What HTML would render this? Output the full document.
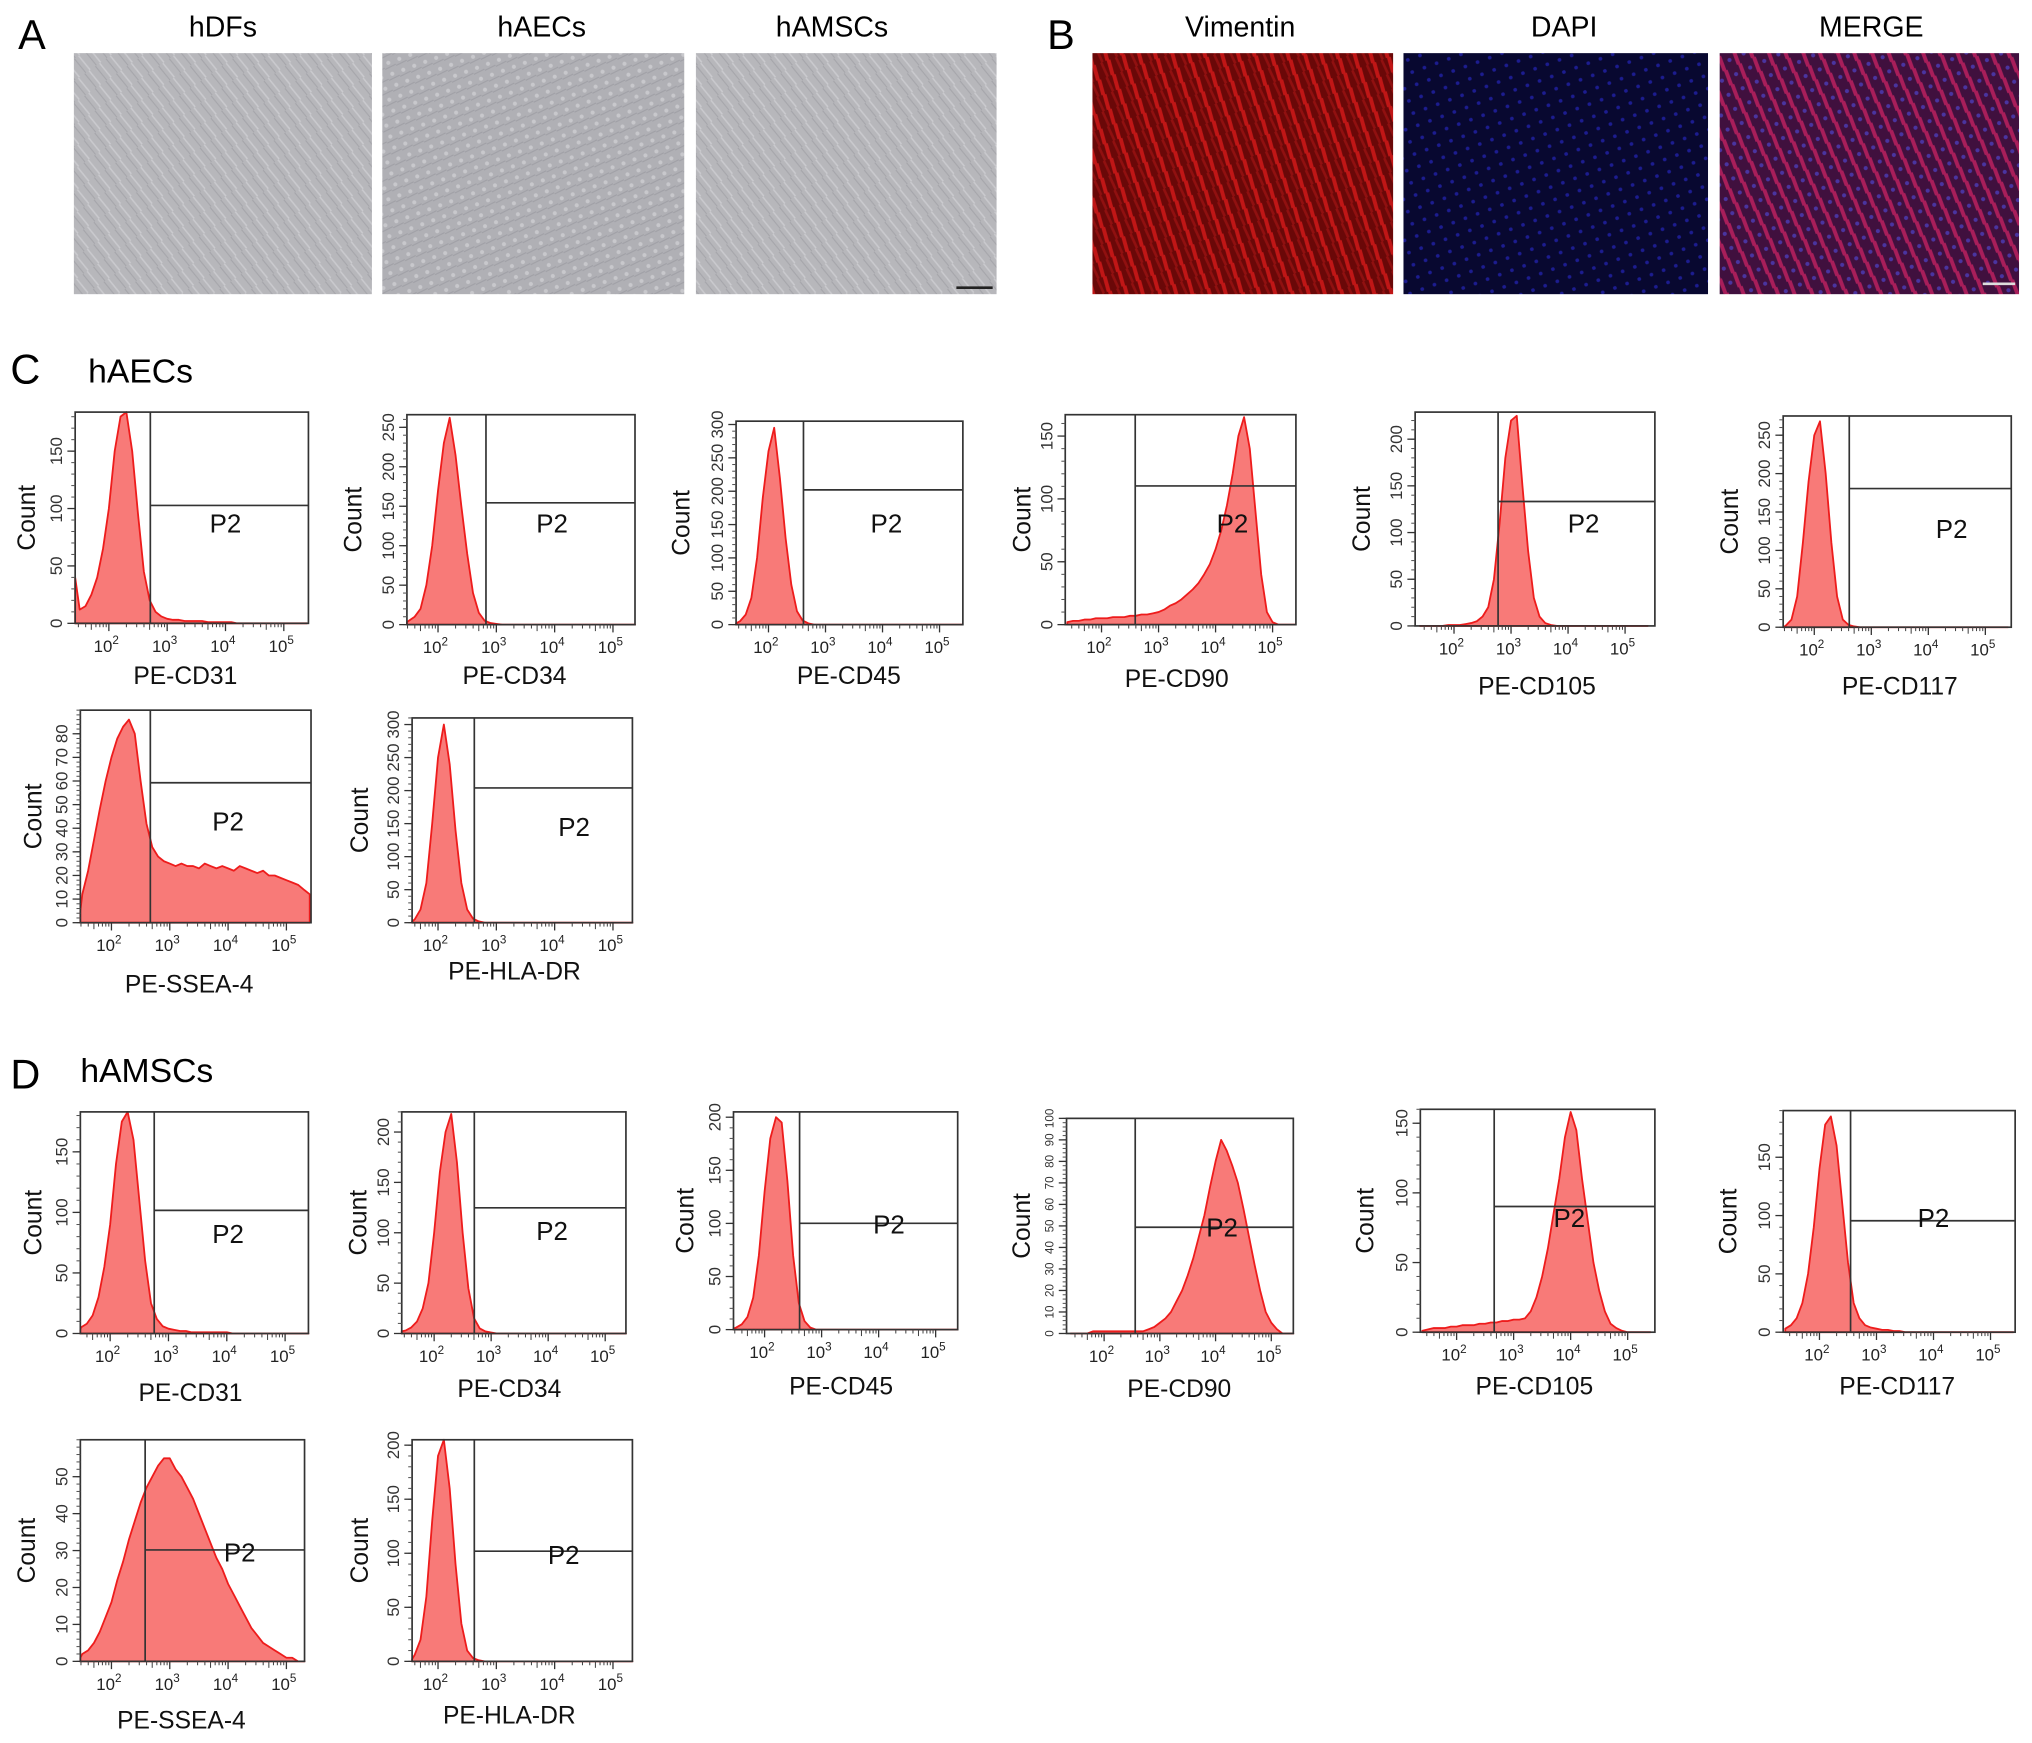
<!DOCTYPE html>
<html><head><meta charset="utf-8">
<style>
html,body{margin:0;padding:0;background:#fff;}
svg{display:block;font-family:"Liberation Sans",Arial,sans-serif;}
</style></head>
<body>
<svg id="fig" width="2032" height="1743" viewBox="0 0 1568 1345" xmlns="http://www.w3.org/2000/svg">
<defs>
<pattern id="cellsA" width="14" height="10" patternUnits="userSpaceOnUse" patternTransform="rotate(55)">
<rect width="14" height="10" fill="#b7b7bb"/><path d="M0 5 L14 4" stroke="#cacace" stroke-width="1.2"/><path d="M0 9 L14 8" stroke="#a5a5aa" stroke-width="0.8"/>
</pattern>
<pattern id="cellsA2" width="9" height="9" patternUnits="userSpaceOnUse" patternTransform="rotate(-20)">
<rect width="9" height="9" fill="#b0b0b5"/><circle cx="4" cy="4" r="1.6" fill="#c8c8cc"/><path d="M0 8 L9 7" stroke="#a0a0a6" stroke-width="0.8"/>
</pattern>
<pattern id="cellsR" width="12" height="12" patternUnits="userSpaceOnUse" patternTransform="rotate(70)">
<rect width="12" height="12" fill="#6a0808"/><path d="M0 4 L12 5" stroke="#c01616" stroke-width="3"/><path d="M0 10 L12 9" stroke="#901010" stroke-width="2"/>
</pattern>
<pattern id="cellsB" width="10" height="10" patternUnits="userSpaceOnUse" patternTransform="rotate(70)">
<rect width="10" height="10" fill="#080830"/><circle cx="5" cy="5" r="1.4" fill="#1c1c90"/>
</pattern>
<pattern id="cellsM" width="12" height="12" patternUnits="userSpaceOnUse" patternTransform="rotate(65)">
<rect width="12" height="12" fill="#40103e"/><path d="M0 4 L12 5" stroke="#a81e5a" stroke-width="3"/><circle cx="6" cy="10" r="1.6" fill="#4a34a0"/>
</pattern>
</defs>
<g id="panelAB">
<text x="14" y="38" font-size="32">A</text>
<text x="172" y="28" font-size="22" text-anchor="middle">hDFs</text>
<text x="418" y="28" font-size="22" text-anchor="middle">hAECs</text>
<text x="642" y="28" font-size="22" text-anchor="middle">hAMSCs</text>
<rect x="57" y="41" width="230" height="186" fill="url(#cellsA)"/>
<rect x="295" y="41" width="233" height="186" fill="url(#cellsA2)"/>
<rect x="537" y="41" width="232" height="186" fill="url(#cellsA)"/>
<line x1="738" y1="222" x2="766" y2="222" stroke="#222" stroke-width="2"/>
<text x="808" y="38" font-size="32">B</text>
<text x="957" y="28" font-size="22" text-anchor="middle">Vimentin</text>
<text x="1207" y="28" font-size="22" text-anchor="middle">DAPI</text>
<text x="1444" y="28" font-size="22" text-anchor="middle">MERGE</text>
<rect x="843" y="41" width="232" height="186" fill="url(#cellsR)"/>
<rect x="1083" y="41" width="235" height="186" fill="url(#cellsB)"/>
<rect x="1327" y="41" width="231" height="186" fill="url(#cellsM)"/>
<line x1="1530" y1="219" x2="1555" y2="219" stroke="#ddd" stroke-width="2"/>
<text x="8" y="296" font-size="32">C</text>
<text x="68" y="295" font-size="26">hAECs</text>
<text x="8" y="840" font-size="32">D</text>
<text x="62" y="835" font-size="26">hAMSCs</text>
</g>
<g id="plots"></g>
</svg>
<script>
// log10 bin centers (fluorescence), 1.4 .. 5.4
const logBins = [1.4,1.5,1.6,1.7,1.8,1.9,2.0,2.1,2.2,2.3,2.4,2.5,2.6,2.7,2.8,2.9,3.0,3.1,3.2,3.3,3.4,3.5,3.6,3.7,3.8,3.9,4.0,4.1,4.2,4.3,4.4,4.5,4.6,4.7,4.8,4.9,5.0,5.1,5.2,5.3,5.4];
// hAECs counts
const cCD31  = [40,12,15,25,40,65,100,150,180,184,150,95,45,20,10,6,4,3,3,2,2,2,2,1,1,1,1,1,0,0,0,0,0,0,0,0,0,0,0,0,0];
const cCD34  = [3,5,10,20,50,100,170,230,262,215,150,90,40,15,5,2,1,0,0,0,0,0,0,0,0,0,0,0,0,0,0,0,0,0,0,0,0,0,0,0,0];
const cCD45  = [2,5,15,40,100,190,260,295,220,130,60,20,6,2,0,0,0,0,0,0,0,0,0,0,0,0,0,0,0,0,0,0,0,0,0,0,0,0,0,0,0];
const cCD90  = [2,3,3,4,4,5,5,5,6,6,6,7,7,8,8,9,10,12,15,17,20,24,28,33,40,48,60,75,95,120,150,165,140,90,40,10,2,0,0,0,0];
const cCD105 = [0,0,0,0,0,1,1,1,2,3,5,10,20,50,110,180,220,225,150,80,30,10,3,1,0,0,0,0,0,0,0,0,0,0,0,0,0,0,0,0,0];
const cCD117 = [0,2,10,40,110,190,250,268,200,110,40,10,3,1,0,0,0,0,0,0,0,0,0,0,0,0,0,0,0,0,0,0,0,0,0,0,0,0,0,0,0];
const cSSEA  = [5,12,22,35,48,60,70,78,83,86,80,60,42,32,28,26,25,24,25,24,24,23,25,24,23,24,23,22,24,23,22,21,22,20,20,19,18,17,16,14,12];
const cHLA   = [1,2,5,20,60,150,250,300,240,140,60,20,6,2,0,0,0,0,0,0,0,0,0,0,0,0,0,0,0,0,0,0,0,0,0,0,0,0,0,0,0];
// hAMSCs counts
const dCD31  = [3,5,8,15,30,55,90,140,175,183,160,110,60,25,12,6,4,3,2,2,1,1,1,1,1,1,1,0,0,0,0,0,0,0,0,0,0,0,0,0,0];
const dCD34  = [2,3,6,12,25,50,100,160,200,218,170,100,45,15,5,2,1,0,0,0,0,0,0,0,0,0,0,0,0,0,0,0,0,0,0,0,0,0,0,0,0];
const dCD45  = [1,2,5,12,30,70,130,180,200,195,140,70,25,8,2,0,0,0,0,0,0,0,0,0,0,0,0,0,0,0,0,0,0,0,0,0,0,0,0,0,0];
const dCD90  = [0,0,0,0,1,1,1,1,1,1,1,1,1,1,2,3,5,7,10,15,20,27,35,45,55,68,80,90,85,78,70,58,45,32,20,10,5,2,0,0,0];
const dCD105 = [1,2,3,3,3,4,4,5,5,5,6,6,7,7,8,8,9,9,10,15,25,40,60,85,110,140,158,145,110,80,50,30,15,6,3,1,0,0,0,0,0];
const dCD117 = [3,6,12,25,50,90,140,178,185,160,110,60,25,12,6,4,3,2,2,1,1,0,0,0,0,0,0,0,0,0,0,0,0,0,0,0,0,0,0,0,0];
const dSSEA  = [1,2,3,5,8,12,16,22,27,33,38,43,47,50,53,55,55,52,50,47,44,40,36,32,28,25,21,18,15,12,9,7,5,4,3,2,1,1,0,0,0];
const dHLA   = [1,2,6,20,60,130,190,205,160,90,35,10,3,1,0,0,0,0,0,0,0,0,0,0,0,0,0,0,0,0,0,0,0,0,0,0,0,0,0,0,0];
// axis tick values
const ticks50_150 = [0,50,100,150];
const ticks50_200 = [0,50,100,150,200];
const ticks50_250 = [0,50,100,150,200,250];
const ticks50_300 = [0,50,100,150,200,250,300];
const ticks10_80  = [0,10,20,30,40,50,60,70,80];
const ticks10_50  = [0,10,20,30,40,50];
const ticks10_100 = [0,10,20,30,40,50,60,70,80,90,100];
const decades = [2,3,4,5];

const plots = [
 {name:'c-cd31',label:'PE-CD31',data:cCD31,ticks:ticks50_150,ymax:184,x0:58,x1:238,y0:318,y1:481,gx:116,gy:390,d2:84,dd:45,p2:[174,404],cx:20,lx:143,ly:522},
 {name:'c-cd34',label:'PE-CD34',data:cCD34,ticks:ticks50_250,ymax:266,x0:314,x1:490,y0:320,y1:482,gx:375,gy:388,d2:338,dd:45,p2:[426,404],cx:272,lx:397,ly:522},
 {name:'c-cd45',label:'PE-CD45',data:cCD45,ticks:ticks50_300,ymax:305,x0:568,x1:743,y0:325,y1:482,gx:620,gy:378,d2:593,dd:44,p2:[684,404],cx:525,lx:655,ly:522},
 {name:'c-cd90',label:'PE-CD90',data:cCD90,ticks:ticks50_150,ymax:167,x0:822,x1:1000,y0:320,y1:482,gx:876,gy:375,d2:850,dd:44,p2:[951,404],cx:788,lx:908,ly:524},
 {name:'c-cd105',label:'PE-CD105',data:cCD105,ticks:ticks50_200,ymax:229,x0:1092,x1:1277,y0:318,y1:483,gx:1156,gy:387,d2:1122,dd:44,p2:[1222,404],cx:1050,lx:1186,ly:530},
 {name:'c-cd117',label:'PE-CD117',data:cCD117,ticks:ticks50_250,ymax:275,x0:1376,x1:1552,y0:321,y1:484,gx:1427,gy:377,d2:1400,dd:44,p2:[1506,408],cx:1334,lx:1466,ly:530},
 {name:'c-ssea4',label:'PE-SSEA-4',data:cSSEA,ticks:ticks10_80,ymax:90,x0:62,x1:240,y0:548,y1:712,gx:116,gy:604,d2:86,dd:45,p2:[176,634],cx:25,lx:146,ly:760},
 {name:'c-hla-dr',label:'PE-HLA-DR',data:cHLA,ticks:ticks50_300,ymax:310,x0:318,x1:488,y0:554,y1:712,gx:366,gy:608,d2:338,dd:45,p2:[443,638],cx:277,lx:397,ly:750},
 {name:'d-cd31',label:'PE-CD31',data:dCD31,ticks:ticks50_150,ymax:183,x0:62,x1:238,y0:858,y1:1029,gx:119,gy:934,d2:85,dd:45,p2:[176,952],cx:25,lx:147,ly:1075},
 {name:'d-cd34',label:'PE-CD34',data:dCD34,ticks:ticks50_200,ymax:220,x0:310,x1:483,y0:858,y1:1029,gx:366,gy:932,d2:335,dd:44,p2:[426,950],cx:276,lx:393,ly:1072},
 {name:'d-cd45',label:'PE-CD45',data:dCD45,ticks:ticks50_200,ymax:205,x0:566,x1:739,y0:858,y1:1026,gx:617,gy:944,d2:590,dd:44,p2:[686,945],cx:528,lx:649,ly:1070},
 {name:'d-cd90',label:'PE-CD90',data:dCD90,ticks:ticks10_100,ymax:100,x0:823,x1:998,y0:863,y1:1029,gx:876,gy:947,d2:852,dd:43,p2:[943,947],cx:788,lx:910,ly:1072,small:true},
 {name:'d-cd105',label:'PE-CD105',data:dCD105,ticks:ticks50_150,ymax:160,x0:1096,x1:1277,y0:856,y1:1028,gx:1153,gy:931,d2:1124,dd:44,p2:[1211,940],cx:1053,lx:1184,ly:1070},
 {name:'d-cd117',label:'PE-CD117',data:dCD117,ticks:ticks50_150,ymax:190,x0:1376,x1:1555,y0:857,y1:1028,gx:1428,gy:942,d2:1404,dd:44,p2:[1492,940],cx:1333,lx:1464,ly:1070},
 {name:'d-ssea4',label:'PE-SSEA-4',data:dSSEA,ticks:ticks10_50,ymax:60,x0:62,x1:235,y0:1111,y1:1282,gx:112,gy:1196,d2:86,dd:45,p2:[185,1198],cx:20,lx:140,ly:1328},
 {name:'d-hla-dr',label:'PE-HLA-DR',data:dHLA,ticks:ticks50_200,ymax:205,x0:318,x1:488,y0:1111,y1:1282,gx:366,gy:1197,d2:338,dd:45,p2:[435,1200],cx:277,lx:393,ly:1324}
];

const NS='http://www.w3.org/2000/svg';
const root=document.getElementById('plots');
function mk(tag,attrs,parent){const e=document.createElementNS(NS,tag);for(const k in attrs)e.setAttribute(k,attrs[k]);parent.appendChild(e);return e;}

plots.forEach(p=>{
  const g=mk('g',{},root);
  
  
  const xs=l=>p.d2+(l-2)*p.dd;
  const ys=v=>p.y1-(v/p.ymax)*(p.y1-p.y0);
  const pts=[];
  logBins.forEach((l,i)=>{const x=Math.max(p.x0,Math.min(p.x1,xs(l)));pts.push([x,ys(Math.min(p.data[i],p.ymax))]);});
  const d='M'+pts[0][0]+','+p.y1+' '+pts.map(q=>'L'+q[0].toFixed(1)+','+q[1].toFixed(1)).join(' ')+' L'+pts[pts.length-1][0]+','+p.y1+' Z';
  const area=mk('path',{d:d,fill:'#f87a78',stroke:'#ee1c1c','stroke-width':1.4,'stroke-linejoin':'round'},g);
  
  
  const fr=mk('rect',{x:p.x0,y:p.y0,width:p.x1-p.x0,height:p.y1-p.y0,fill:'none',stroke:'#333','stroke-width':1.3},g);
  
  
  const gv=mk('line',{x1:p.gx,y1:p.y0,x2:p.gx,y2:p.y1,stroke:'#333','stroke-width':1.3},g);
  
  
  const gh=mk('line',{x1:p.gx,y1:p.gy,x2:p.x1,y2:p.gy,stroke:'#333','stroke-width':1.3},g);
  
  
  const pt=mk('text',{x:p.p2[0],y:p.p2[1]+7,'font-size':20,'text-anchor':'middle',fill:'#111'},g);
  pt.textContent='P2';
  
  
  const step=p.ticks[1]-p.ticks[0];
  for(let v=0;v<=p.ymax;v+=step/5){const y=ys(v);mk('line',{x1:p.x0-3,y1:y,x2:p.x0,y2:y,stroke:'#555','stroke-width':0.8},g);}
  p.ticks.forEach(v=>{
    const y=ys(v);
    mk('line',{x1:p.x0-6,y1:y,x2:p.x0,y2:y,stroke:'#333','stroke-width':1},g);
    const t=mk('text',{x:p.x0-10,y:y,'font-size':p.small?9:13,'text-anchor':'middle',fill:'#333',transform:`rotate(-90 ${p.x0-10} ${y})`},g);
    t.textContent=v;
    
    
  });
  decades.forEach(dc=>{
    const x=xs(dc);
    for(let m=2;m<10;m++){const xm=xs(dc-1+Math.log10(m));if(xm>p.x0&&xm<p.x1)mk('line',{x1:xm,y1:p.y1,x2:xm,y2:p.y1+(m==5?5:3),stroke:'#444','stroke-width':0.8},g);}
    mk('line',{x1:x,y1:p.y1,x2:x,y2:p.y1+6,stroke:'#333','stroke-width':1},g);
    const t=mk('text',{x:x-2,y:p.y1+22,'font-size':13,'text-anchor':'middle',fill:'#222'},g);
    t.textContent='10';
    const s=mk('tspan',{dy:-6,'font-size':9},t);
    s.textContent=String(dc);
    
    
  });
  const xt=mk('text',{x:p.lx,y:p.ly+6,'font-size':19,'text-anchor':'middle',fill:'#111'},g);
  xt.textContent=p.label;
  
  
  const cy=(p.y0+p.y1)/2;
  const ct=mk('text',{x:p.cx+7,y:cy,'font-size':19,'text-anchor':'middle',fill:'#111',transform:`rotate(-90 ${p.cx+7} ${cy})`},g);
  ct.textContent='Count';
  
  
});
</script>
</body></html>
